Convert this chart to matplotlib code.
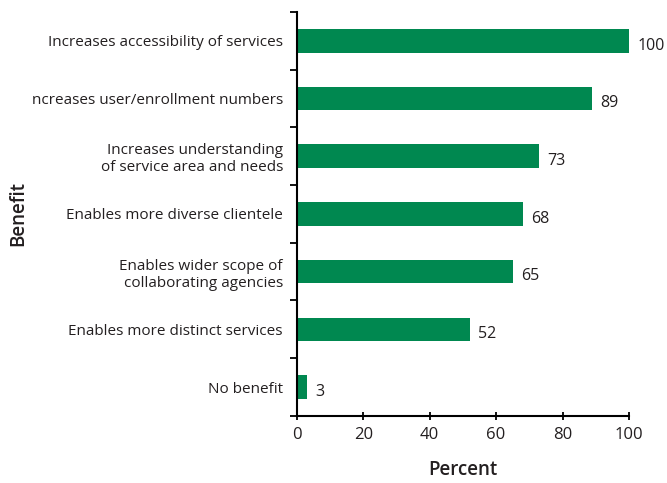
import numpy as np
import matplotlib
matplotlib.use('Agg')
import matplotlib.pyplot as plt

plt.rcParams['font.family'] = ['Open Sans', 'DejaVu Sans']

benefits = ['Increases accessibility of services',
            'ncreases user/enrollment numbers',
            'Increases understanding\nof service area and needs',
            'Enables more diverse clientele',
            'Enables wider scope of\ncollaborating agencies',
            'Enables more distinct services',
            'No benefit']
percent = [100, 89, 73, 68, 65, 52, 3]
xticks = [0, 20, 40, 60, 80, 100]

fig = plt.figure(figsize=(6.67, 4.83), dpi=100)
ax = fig.add_axes([0.445, 0.139, 0.498, 0.836])

y = np.arange(len(benefits))
ax.barh(y, percent, height=0.41, color='#008850')
for yi, v in zip(y, percent):
    ax.text(v + 2.5, yi + 0.08, str(v), va='center', ha='left', fontsize=11.5, color='#231f20')

ax.set_ylim(len(benefits) - 0.5, -0.5)
ax.set_xlim(0, 100)
ax.set_xticks(xticks)
ax.set_yticks(y)
ax.set_yticklabels(benefits, fontsize=11, color='#231f20', linespacing=1.2)
ax.set_yticks(np.arange(-0.5, len(benefits)), minor=True)
ax.tick_params(axis='y', which='major', length=0, pad=10)
ax.tick_params(axis='y', which='minor', length=5, width=1.3, direction='out')
ax.tick_params(axis='x', length=6, width=1.3, direction='inout', labelsize=12, pad=5, labelcolor='#231f20')

for s in ['top', 'right']:
    ax.spines[s].set_visible(False)
for s in ['left', 'bottom']:
    ax.spines[s].set_linewidth(1.5)

ax.set_xlabel('Percent', fontsize=13.5, fontweight='semibold', labelpad=12, color='#231f20')
fig.text(0.027, 0.557, 'Benefit', rotation=90, fontsize=13.5, fontweight='semibold', va='center', ha='center', color='#231f20')

plt.savefig('out.png', dpi=100)
